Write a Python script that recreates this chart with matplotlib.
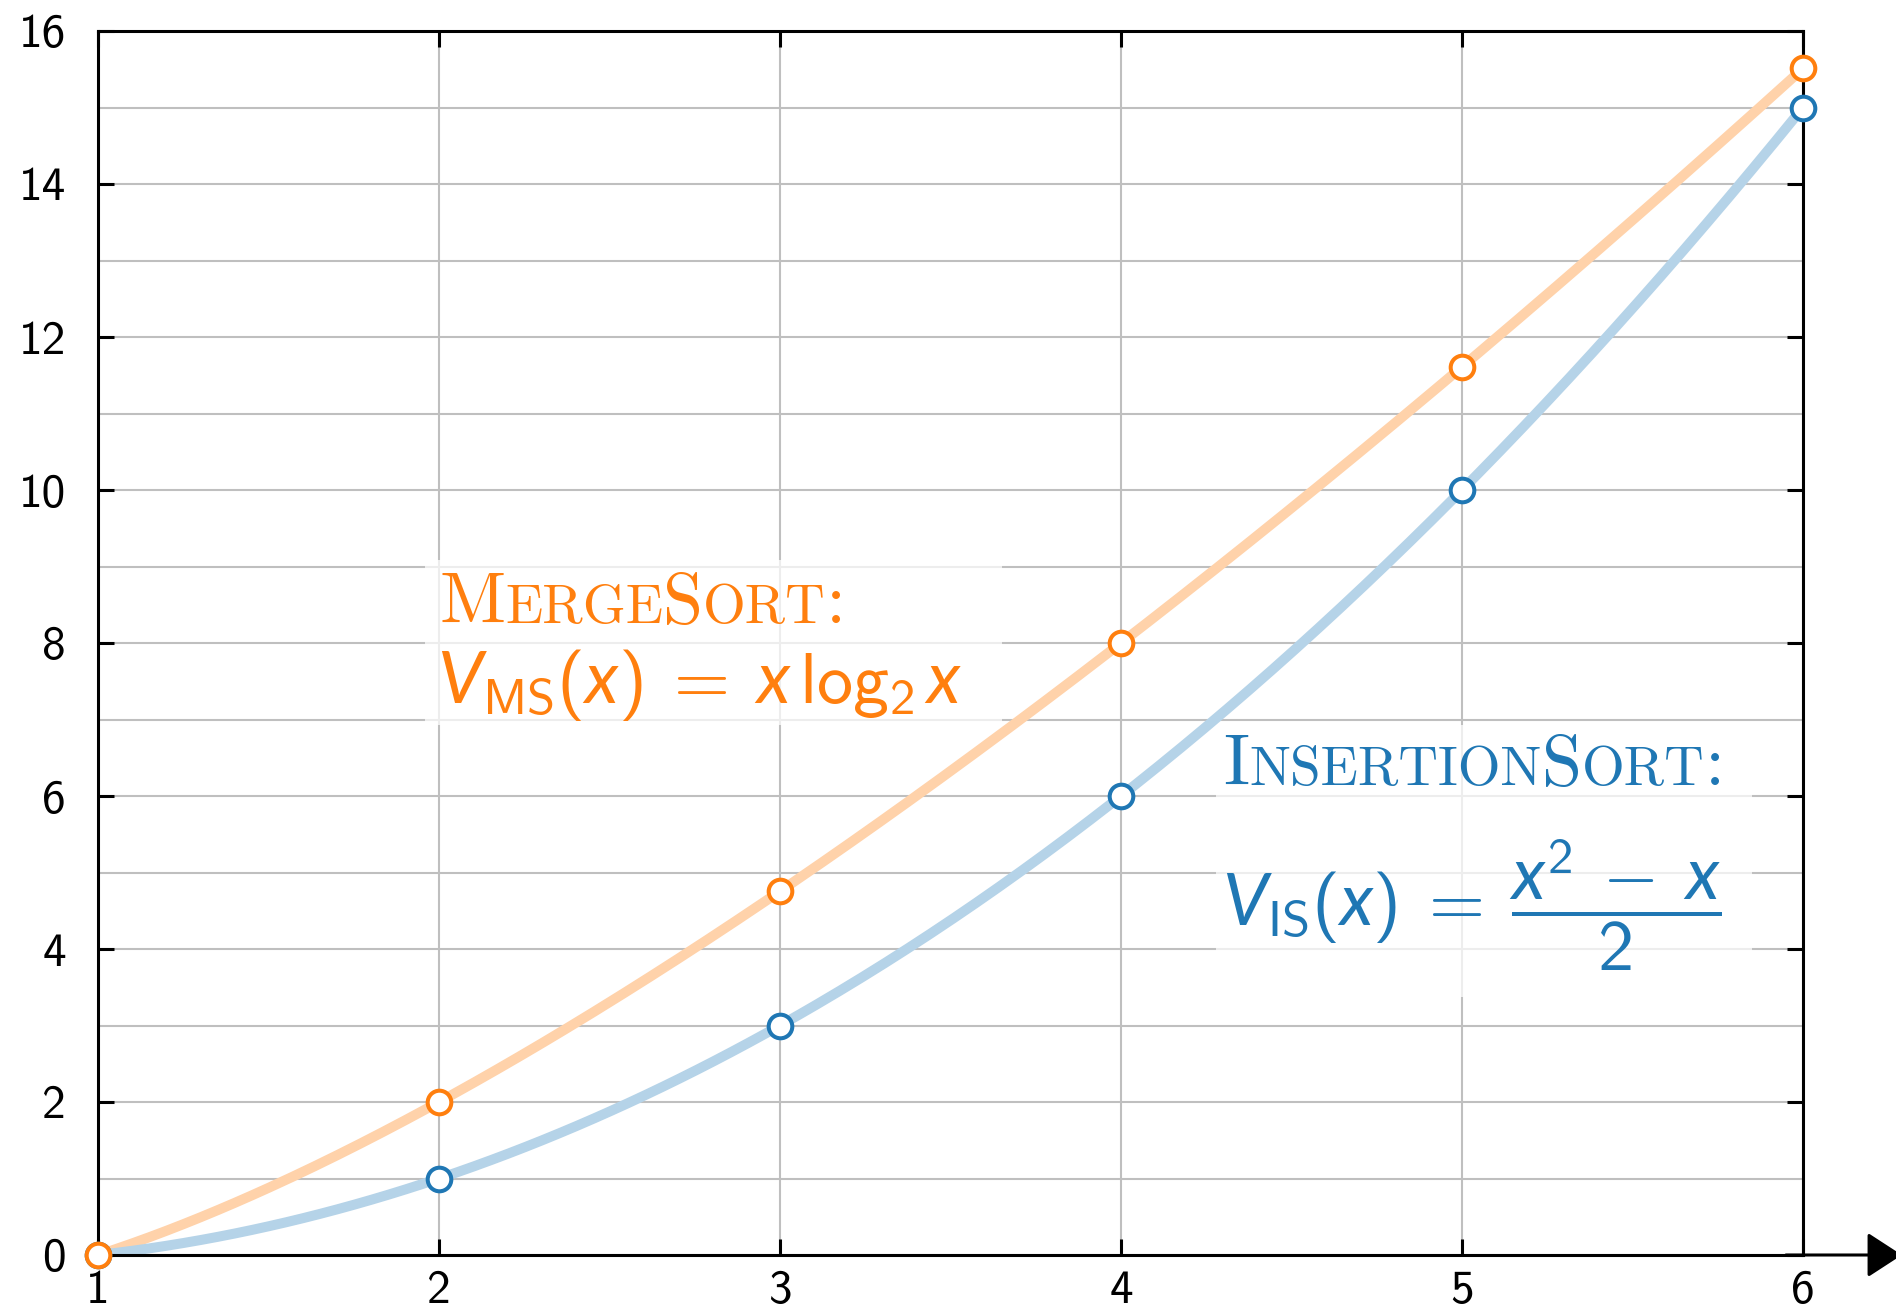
import numpy as np
import matplotlib
matplotlib.use("Agg")
from matplotlib import pyplot as plt
from matplotlib.transforms import offset_copy
from matplotlib.patches import Rectangle

plt.rcParams['font.family'] = ['cmss10', 'DejaVu Sans']
plt.rcParams['mathtext.fontset'] = 'custom'
plt.rcParams['mathtext.rm'] = 'cmss10'
plt.rcParams['mathtext.it'] = 'Lato:italic'
plt.rcParams['mathtext.sf'] = 'cmss10'
plt.rcParams['axes.unicode_minus'] = False

ORANGE = '#ff7f0e'
BLUE = '#1f77b4'

# values at the integer sizes
n = [1, 2, 3, 4, 5, 6]
merge_sort = [0, 2, 4.755, 8, 11.61, 15.51]
insertion_sort = [0, 1, 3, 6, 10, 15]

x_ticks = [1, 2, 3, 4, 5, 6]
y_ticks = [0, 2, 4, 6, 8, 10, 12, 14, 16]


def v_ms(x):
    return x * np.log2(x)


def v_is(x):
    return (x ** 2 - x) / 2


fig = plt.figure(figsize=(18.96, 13.12), dpi=100)
ax = fig.add_axes([98 / 1896, 1 - 1255 / 1312, 1705 / 1896, 1224 / 1312])

xs = np.linspace(1, 6, 300)
ax.plot(xs, v_ms(xs), color='#ffd2aa', lw=7.2, zorder=2, solid_capstyle='butt')
ax.plot(xs, v_is(xs), color='#b5d3e8', lw=7.2, zorder=2, solid_capstyle='butt')

ax.plot(n, insertion_sort, 'o', ms=17, mfc='white', mec=BLUE, mew=2.9,
        zorder=6, clip_on=False)
ax.plot(n, merge_sort, 'o', ms=17, mfc='white', mec=ORANGE, mew=2.9,
        zorder=7, clip_on=False)

ax.set_xlim(1, 6)
ax.set_ylim(0, 16)
ax.set_xticks(x_ticks)
ax.set_yticks(y_ticks)
ax.set_yticks(np.arange(1, 16, 2), minor=True)
ax.tick_params(which='major', direction='in', length=11.5, width=2.2,
               top=True, right=True, labelsize=34, colors='black')
ax.tick_params(which='minor', length=0)
ax.tick_params(axis='y', pad=23)
ax.tick_params(axis='x', pad=11)
ax.grid(True, which='both', color='#bfbfbf', lw=1.5, zorder=0)
ax.set_axisbelow(True)
for sp in ax.spines.values():
    sp.set_linewidth(2.2)

# x axis arrow
ax.annotate('', xy=(1.058, 0), xytext=(0.99, 0),
            xycoords=('axes fraction', 'data'),
            arrowprops=dict(arrowstyle='-|>,head_length=0.4,head_width=0.26',
                            lw=2.2, color='black', mutation_scale=54,
                            shrinkA=0, shrinkB=0),
            annotation_clip=False, zorder=5)

# label backgrounds
ax.add_patch(Rectangle((1.96, 6.93), 1.69, 2.15, facecolor='white',
                       edgecolor='none', alpha=0.72, zorder=3))
ax.add_patch(Rectangle((4.28, 3.37), 1.57, 3.56, facecolor='white',
                       edgecolor='none', alpha=0.72, zorder=3))

fig.canvas.draw()
renderer = fig.canvas.get_renderer()


def small_caps(x, y, word, size, color):
    # big capitals stay full size, lowercase become smaller capitals
    pieces = []
    for ch in word:
        big = not ch.islower()
        if pieces and pieces[-1][1] == big:
            pieces[-1][0] += ch.upper()
        else:
            pieces.append([ch.upper(), big])
    dx = 0.0
    for txt, big in pieces:
        fs = size if big else size * 0.76
        tr = offset_copy(ax.transData, fig, x=dx, units='dots')
        t = ax.text(x, y, txt, fontsize=fs, family='cmr10', color=color,
                    va='baseline', ha='left', transform=tr, zorder=4)
        dx += t.get_window_extent(renderer).width


small_caps(2.0, 8.26, 'MergeSort:', 52, ORANGE)
ax.text(1.995, 7.22,
        r'$V_{\mathrm{MS}}(x)\;=\;x\,\mathrm{log}_{2}\,x$',
        fontsize=52, color=ORANGE, va='baseline', ha='left', zorder=4)

small_caps(4.30, 6.14, 'InsertionSort:', 52, BLUE)
ax.text(4.295, 4.57,
        r'$V_{\mathrm{IS}}(x)\;=\;\dfrac{x^{2}\;-\;x}{2}$',
        fontsize=52, color=BLUE, va='center', ha='left', zorder=4)

fig.savefig('out.png', dpi=100)
